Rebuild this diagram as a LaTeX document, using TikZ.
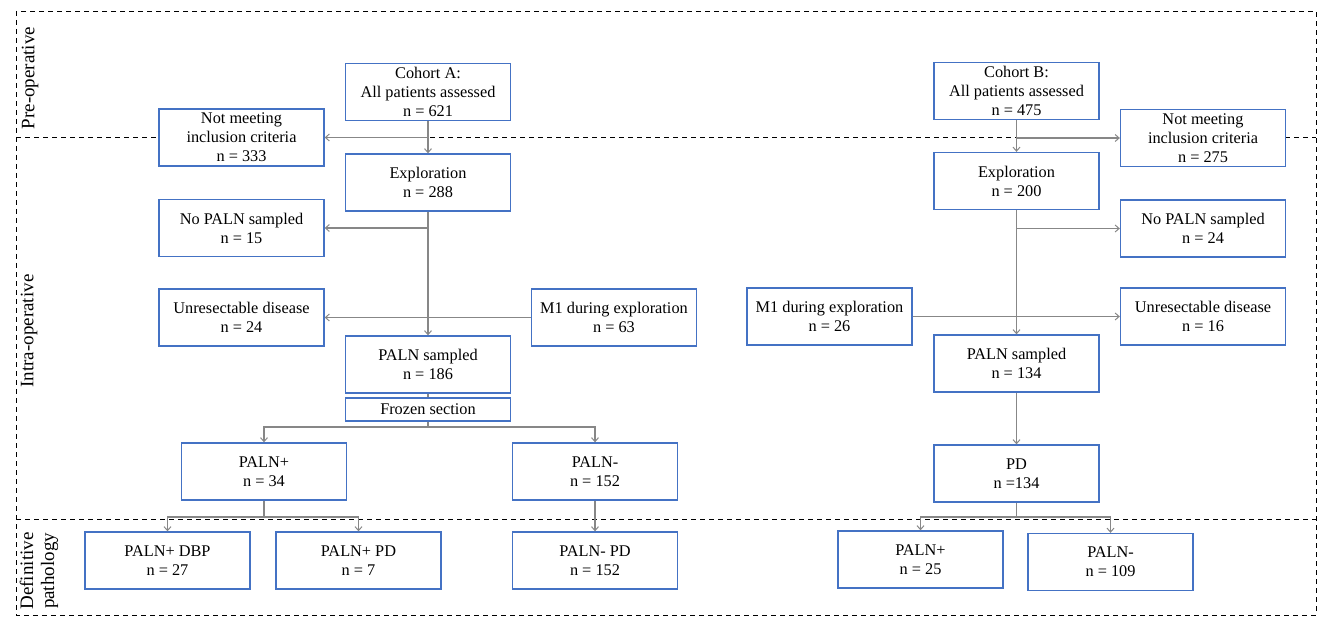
\documentclass[tikz,border=0pt]{standalone}
\usepackage{fontspec}
\setmainfont{Liberation Serif}
\usetikzlibrary{arrows.meta}
\definecolor{boxblue}{RGB}{68,114,196}
\definecolor{linegray}{RGB}{135,135,135}
\tikzset{
  box/.style={draw=boxblue, line width=1.3pt, fill=white, rectangle, inner sep=0pt,
    minimum width=165pt, minimum height=57pt, align=center,
    font=\fontsize{16.3}{19}\selectfont},
  smallbox/.style={box, minimum height=23pt},
  conn/.style={draw=linegray, line width=1.3pt},
  arr/.style={conn, -{Straight Barb[length=4pt,width=7pt,line width=1pt]}},
  frame/.style={draw=black, line width=0.9pt, dash pattern=on 5pt off 4pt},
  phase/.style={rotate=90, align=center, font=\fontsize{19}{21}\selectfont, inner sep=0pt}
}
\begin{document}
\begin{tikzpicture}[x=1pt,y=-1pt]
\useasboundingbox (0,0) rectangle (1317,617);
% frame and phase separators
\draw[frame] (16,11) rectangle (1316,615);
\draw[frame] (16,137) -- (1316,137);
\draw[frame] (16,519) -- (1316,519);
\node[phase] (pre) at (30,78) {Pre-operative};
\node[phase] (intra) at (29,331) {Intra-operative};
\node[phase] (defp) at (39,571) {Definitive\\pathology};

% Cohort A
\node[box] (cA) at (428,92) {Cohort A:\\All patients assessed\\n = 621};
\node[box] (nmA) at (241.5,137.5) {Not meeting\\inclusion criteria\\n = 333};
\node[box] (exA) at (428,182.5) {Exploration\\n = 288};
\node[box] (npA) at (241.5,228) {No PALN sampled\\n = 15};
\node[box] (unA) at (241.5,317.5) {Unresectable disease\\n = 24};
\node[box] (m1A) at (614,317.5) {M1 during exploration\\n = 63};
\node[box] (psA) at (428,364.5) {PALN sampled\\n = 186};
\node[smallbox] (fz) at (428,409.5) {Frozen section};
\node[box] (ppA) at (264,471.5) {PALN+\\n = 34};
\node[box] (pnA) at (595,471.5) {PALN-\\n = 152};
\node[box] (dbp) at (167.5,560.5) {PALN+ DBP\\n = 27};
\node[box] (ppd) at (358.5,560.5) {PALN+ PD\\n = 7};
\node[box] (pnpd) at (595,560.5) {PALN- PD\\n = 152};

% Cohort B
\node[box] (cB) at (1016.5,91) {Cohort B:\\All patients assessed\\n = 475};
\node[box] (nmB) at (1203,138) {Not meeting\\inclusion criteria\\n = 275};
\node[box] (exB) at (1016.5,181) {Exploration\\n = 200};
\node[box] (npB) at (1203,228.5) {No PALN sampled\\n = 24};
\node[box] (m1B) at (829.5,316.5) {M1 during exploration\\n = 26};
\node[box] (unB) at (1203,316.5) {Unresectable disease\\n = 16};
\node[box] (psB) at (1016.5,363.5) {PALN sampled\\n = 134};
\node[box] (pd) at (1016.5,473.5) {PD\\n =134};
\node[box] (ppB) at (920.5,559.5) {PALN+\\n = 25};
\node[box] (pnB) at (1110.5,562) {PALN-\\n = 109};

% connectors A
\draw[arr] (cA.south) -- (exA.north);
\draw[arr] (cA.south |- nmA.east) -- (nmA.east);
\draw[arr] (exA.south) -- (psA.north);
\draw[arr] (exA.south |- npA.east) -- (npA.east);
\draw[arr] (m1A.west) -- (unA.east);
\draw[conn] (psA.south) -- (fz.north);
\coordinate (fzb) at (428,427);
\draw[conn] (fz.south) -- (fzb);
\draw[arr] (fzb) -| (ppA.north);
\draw[arr] (fzb) -| (pnA.north);
\coordinate (ppb) at (264,517);
\draw[conn] (ppA.south) -- (ppb);
\draw[arr] (ppb) -| (dbp.north);
\draw[arr] (ppb) -| (ppd.north);
\draw[arr] (pnA.south) -- (pnpd.north);

% connectors B
\draw[arr] (cB.south) -- (exB.north);
\draw[arr] (cB.south |- nmB.west) -- (nmB.west);
\draw[arr] (exB.south) -- (psB.north);
\draw[arr] (exB.south |- npB.west) -- (npB.west);
\draw[arr] (m1B.east) -- (unB.west);
\draw[arr] (psB.south) -- (pd.north);
\coordinate (pdb) at (1016.5,517);
\draw[conn] (pd.south) -- (pdb);
\draw[arr] (pdb) -| (ppB.north);
\draw[arr] (pdb) -| (pnB.north);
\end{tikzpicture}
\end{document}
